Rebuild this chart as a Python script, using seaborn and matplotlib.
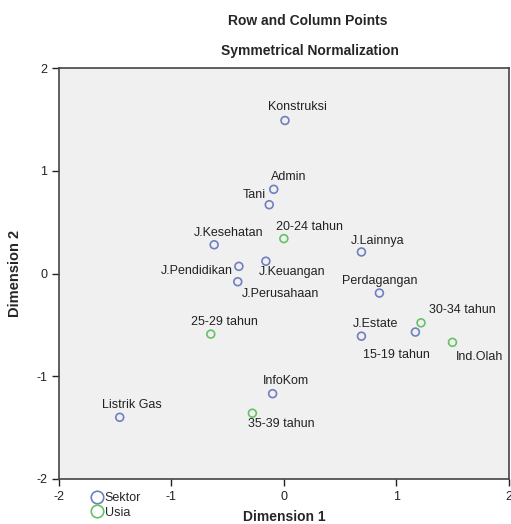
import matplotlib
matplotlib.use("Agg")
import matplotlib.pyplot as plt
import seaborn as sns
import pandas as pd
from matplotlib.lines import Line2D

sns.set_style("white")
plt.rcParams['font.family'] = ['Liberation Sans', 'DejaVu Sans']
plt.rcParams['axes.unicode_minus'] = False

labels = ["Konstruksi", "Admin", "Tani", "J.Kesehatan", "J.Lainnya", "J.Keuangan",
          "J.Pendidikan", "J.Perusahaan", "Perdagangan", "J.Estate", "Ind.Olah",
          "InfoKom", "Listrik Gas",
          "20-24 tahun", "30-34 tahun", "15-19 tahun", "25-29 tahun", "35-39 tahun"]
dim1 = [0.01, -0.09, -0.13, -0.62, 0.69, -0.16, -0.40, -0.41, 0.85, 0.69, 1.17,
        -0.10, -1.46,
        0.00, 1.22, 1.50, -0.65, -0.28]
dim2 = [1.49, 0.82, 0.67, 0.28, 0.21, 0.12, 0.07, -0.08, -0.19, -0.61, -0.57,
        -1.17, -1.40,
        0.34, -0.48, -0.67, -0.59, -1.36]
groups = ["Sektor"] * 13 + ["Usia"] * 5

# label offsets in pixels (dx, dy up), horizontal alignment
PX = 72 / 100
offsets = {
    "Konstruksi": (12, 13, "center"),
    "Admin": (15, 12, "center"),
    "Tani": (-3, 10, "right"),
    "J.Kesehatan": (14, 12, "center"),
    "J.Lainnya": (16, 11, "center"),
    "J.Keuangan": (26, -11, "center"),
    "J.Pendidikan": (-6, -5, "right"),
    "J.Perusahaan": (43, -12, "center"),
    "Perdagangan": (0, 12, "center"),
    "J.Estate": (14, 12, "center"),
    "Ind.Olah": (64, -25, "center"),
    "InfoKom": (13, 13, "center"),
    "Listrik Gas": (12, 12, "center"),
    "20-24 tahun": (26, 12, "center"),
    "30-34 tahun": (41, 13, "center"),
    "15-19 tahun": (-56, -13, "center"),
    "25-29 tahun": (14, 12, "center"),
    "35-39 tahun": (29, -11, "center"),
}

df = pd.DataFrame({"Dimension 1": dim1, "Dimension 2": dim2, "label": labels, "group": groups})

blue = "#6f7fc0"
green = "#66c266"
palette = {"Sektor": blue, "Usia": green}

fig = plt.figure(figsize=(5.11, 5.24), dpi=100)
ax = fig.add_axes([0.1155, 0.086, 0.88, 0.784])
ax.set_facecolor("#f0f0f0")

for g in ["Sektor", "Usia"]:
    sub = df[df.group == g]
    sns.scatterplot(data=sub, x="Dimension 1", y="Dimension 2", ax=ax, s=32,
                    marker="o", facecolors="none", edgecolor=palette[g],
                    linewidth=1.2, legend=False)

for _, r in df.iterrows():
    dx, dy, ha = offsets[r["label"]]
    ax.annotate(r["label"], (r["Dimension 1"], r["Dimension 2"]), xytext=(dx * PX, dy * PX),
                textcoords="offset points", ha=ha, va="center", fontsize=9, color="#222222")

ax.set_xlim(-2, 2)
ax.set_ylim(-2, 2)
ax.set_xticks([-2, -1, 0, 1, 2])
ax.set_yticks([-2, -1, 0, 1, 2])
ax.tick_params(direction="out", length=5, width=1, labelsize=9, colors="#222222", left=True, bottom=True)
for s in ax.spines.values():
    s.set_color("#444444")
    s.set_linewidth(1.2)
ax.set_xlabel("Dimension 1", fontsize=10, fontweight="bold", labelpad=5)
ax.set_ylabel("Dimension 2", fontsize=10.5, fontweight="bold", labelpad=10)

fig.text(0.603, 0.960, "Row and Column Points", ha="center", va="center", fontsize=10, fontweight="bold")
fig.text(0.606, 0.903, "Symmetrical Normalization", ha="center", va="center", fontsize=10, fontweight="bold")

handles = [Line2D([], [], marker="o", linestyle="none", markerfacecolor="none",
                  markeredgecolor=blue, markersize=9, markeredgewidth=1.2, label="Sektor"),
           Line2D([], [], marker="o", linestyle="none", markerfacecolor="none",
                  markeredgecolor=green, markersize=9, markeredgewidth=1.2, label="Usia")]
fig.legend(handles=handles, loc="upper left", bbox_to_anchor=(0.163, 0.0725), frameon=False,
           fontsize=9, handletextpad=0.0, labelspacing=0.2, borderpad=0, handlelength=1.2)

fig.savefig("out.png", dpi=100, facecolor="white")
